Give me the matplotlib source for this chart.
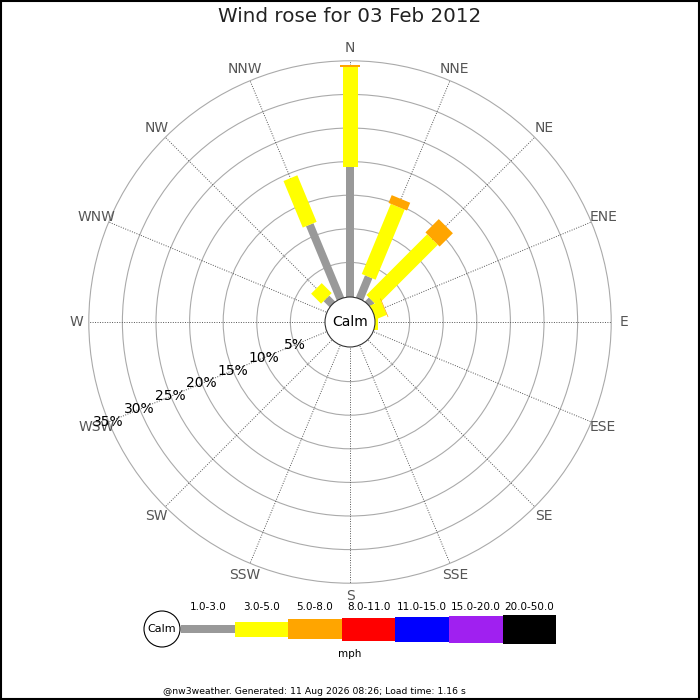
import numpy as np
import matplotlib
matplotlib.use('Agg')
import matplotlib.pyplot as plt
from matplotlib.patches import Polygon, Circle, Rectangle

# ---- data -------------------------------------------------------------
title = 'Wind rose for 03 Feb 2012'
footer = '@nw3weather. Generated: 11 Aug 2026 08:26; Load time: 1.16 s'

directions = ['N', 'NNE', 'NE', 'ENE', 'E', 'ESE', 'SE', 'SSE',
              'S', 'SSW', 'SW', 'WSW', 'W', 'WNW', 'NW', 'NNW']

# percent of time per direction, one list per speed band (mph)
band_1_3 = [19.2, 3.4, 0.7, 0.0, 0.0, 0, 0, 0, 0, 0, 0, 0, 0, 0, 1.1, 11.8]
band_3_5 = [14.9, 11.3, 12.8, 1.6, 0.3, 0, 0, 0, 0, 0, 0, 0, 0, 0, 2.1, 7.5]
band_5_8 = [0.25, 1.25, 2.8, 0.1, 0.0, 0, 0, 0, 0, 0, 0, 0, 0, 0, 0.0, 0.0]
band_8_11 = [0] * 16
band_11_15 = [0] * 16
band_15_20 = [0] * 16
band_20_50 = [0] * 16

bands = [band_1_3, band_3_5, band_5_8, band_8_11, band_11_15, band_15_20, band_20_50]
band_labels = ['1.0-3.0', '3.0-5.0', '5.0-8.0', '8.0-11.0', '11.0-15.0', '15.0-20.0', '20.0-50.0']
band_colors = ['#999999', '#ffff00', '#ffa500', '#ff0000', '#0000ff', '#a020f0', '#000000']

ring_pcts = [5, 10, 15, 20, 25, 30, 35]

# ---- layout -----------------------------------------------------------
W = H = 700
SCALE = 6.72            # pixels per percent
CX, CY = 350, 322       # rose centre in pixels (from top)
R0 = 26.0 / SCALE       # calm radius offset
band_widths_px = [8, 15, 20, 23, 25, 27, 29]

fig = plt.figure(figsize=(7, 7), dpi=100)
ax = fig.add_axes([0, 0, 1, 1])
ax.set_xlim(-CX / SCALE, (W - CX) / SCALE)
ax.set_ylim(-(H - CY) / SCALE, CY / SCALE)
ax.axis('off')

# rings
for p in ring_pcts:
    ax.add_patch(Circle((0, 0), R0 + p, fill=False, ec='#aaaaaa', lw=0.8, zorder=1))

# spokes + direction labels
rmax = R0 + ring_pcts[-1]
for i, d in enumerate(directions):
    a = np.deg2rad(i * 22.5)
    ux, uy = np.sin(a), np.cos(a)
    ax.plot([R0 * ux, rmax * ux], [R0 * uy, rmax * uy], ls=(0, (1, 1.5)),
            color='#555555', lw=0.7, zorder=2)
    rl = 274.0 / SCALE
    ax.text(rl * ux, rl * uy, d, ha='center', va='center', fontsize=10, color='#555555')

# bars: stacked rectangles along each direction
for i in range(len(directions)):
    a = np.deg2rad(i * 22.5)
    ux, uy = np.sin(a), np.cos(a)
    px, py = uy, -ux
    cum = 0.0
    for b, vals in enumerate(bands):
        v = vals[i]
        if v <= 0:
            continue
        r1 = 0.0 if cum == 0 else R0 + cum
        cum += v
        r2 = R0 + cum
        hw = band_widths_px[b] / SCALE / 2
        pts = [(r1 * ux + hw * px, r1 * uy + hw * py),
               (r2 * ux + hw * px, r2 * uy + hw * py),
               (r2 * ux - hw * px, r2 * uy - hw * py),
               (r1 * ux - hw * px, r1 * uy - hw * py)]
        ax.add_patch(Polygon(pts, closed=True, fc=band_colors[b], ec='none', zorder=3 + b))

# calm circle
ax.add_patch(Circle((0, 0), 25.0 / SCALE, fc='white', ec='#333333', lw=0.8, zorder=20))
ax.text(0, 0, 'Calm', ha='center', va='center', fontsize=10, zorder=21)

# percent labels along WSW
a = np.deg2rad(247.5)
for p in ring_pcts:
    r = R0 + p
    ax.text(r * np.sin(a), r * np.cos(a), '%d%%' % p, ha='center', va='center',
            fontsize=10, color='black', zorder=22)

# ---- legend + frame in pixel coords -----------------------------------
lg = fig.add_axes([0, 0, 1, 1])
lg.set_xlim(0, W)
lg.set_ylim(H, 0)
lg.axis('off')
lg.patch.set_alpha(0)

LX0, LW, LY = 181.0, 53.6, 629.0
lg.add_patch(Circle((162, LY), 18, fc='white', ec='black', lw=0.8))
lg.text(162, LY, 'Calm', ha='center', va='center', fontsize=8)
for b, lab in enumerate(band_labels):
    h = band_widths_px[b]
    lg.add_patch(Rectangle((LX0 + b * LW, LY - h / 2), LW, h, fc=band_colors[b], ec='none'))
    lg.text(LX0 + (b + 0.5) * LW, 607, lab, ha='center', va='center', fontsize=7.5)
lg.text(350, 654, 'mph', ha='center', va='center', fontsize=7.5)

lg.add_patch(Rectangle((1, 1), W - 2, H - 2, fill=False, ec='black', lw=1.5))

fig.text(0.5, 1 - 17.0 / H, title, ha='center', va='center', fontsize=14.3, color='#222222')
fig.text(163.0 / W, 1 - 691.0 / H, footer, ha='left', va='center', fontsize=6.7)

fig.savefig('out.png', dpi=100)
